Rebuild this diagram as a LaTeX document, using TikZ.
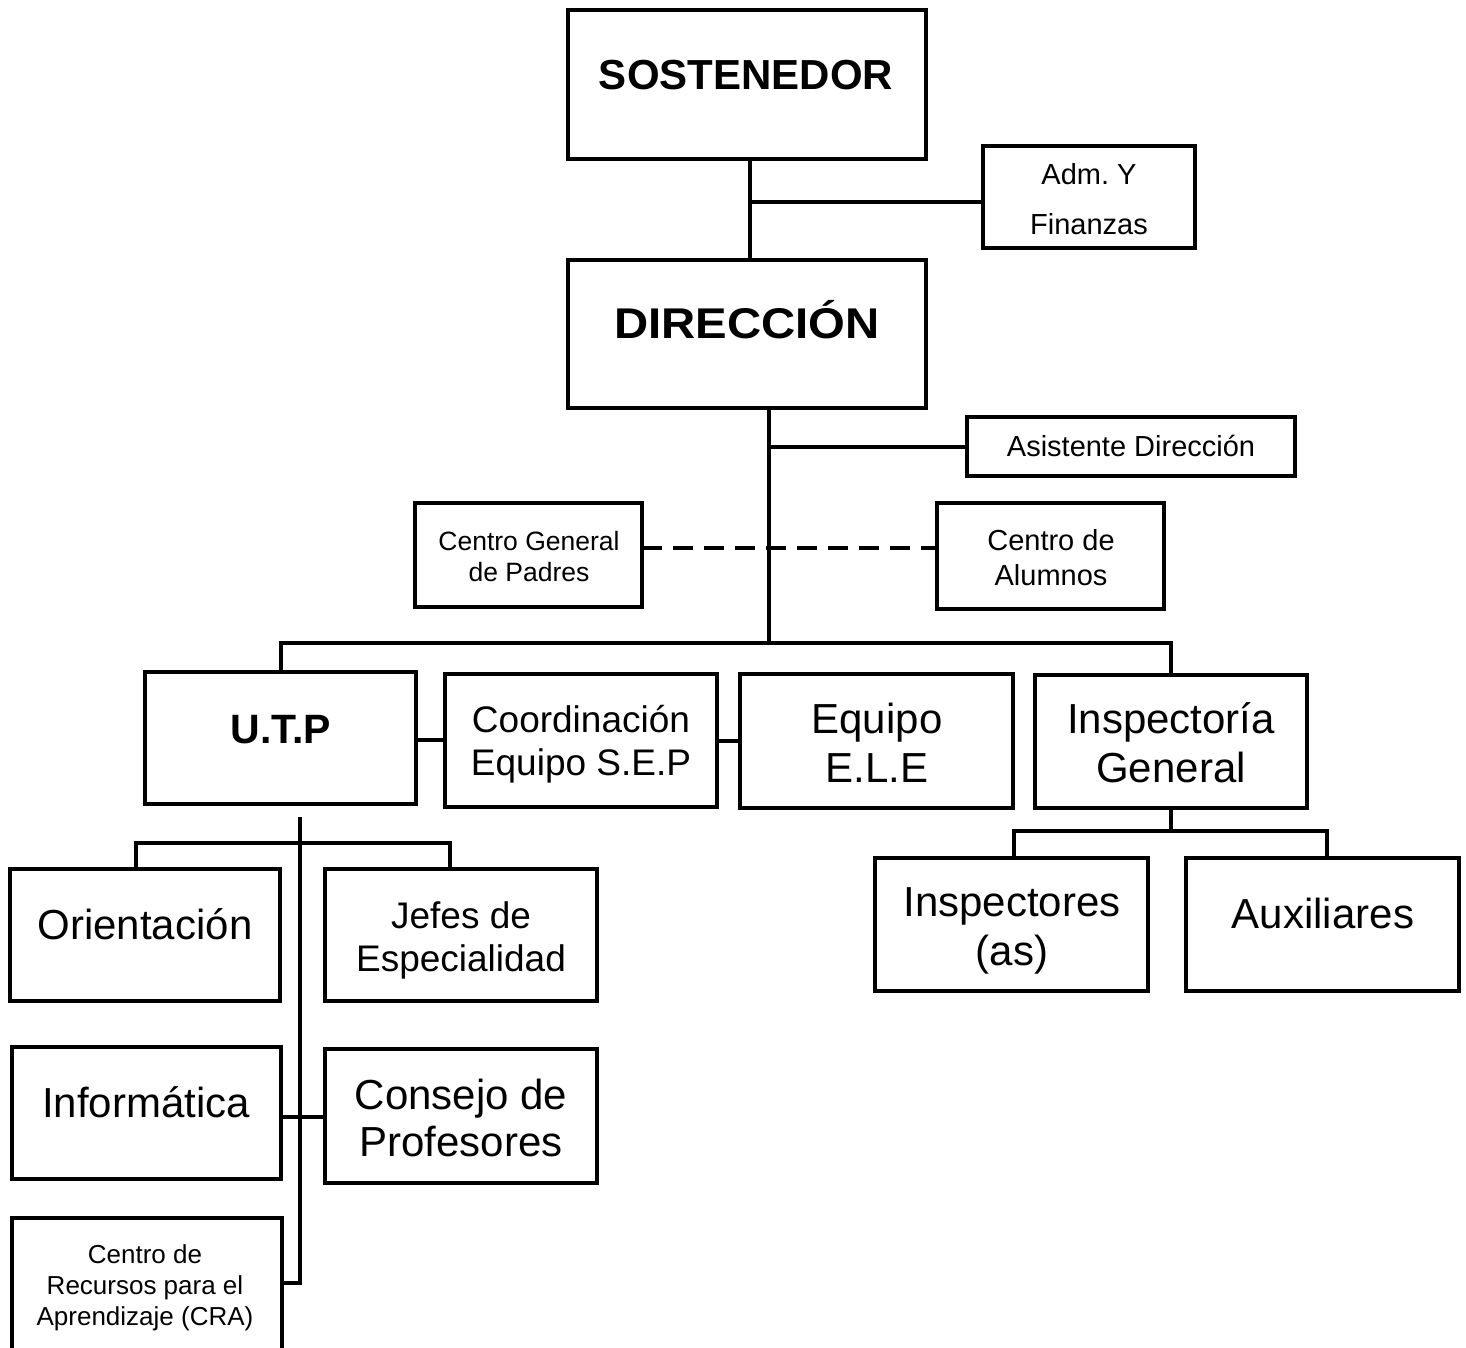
\documentclass[tikz,border=0pt]{standalone}
\usepackage{fontspec}
\setmainfont{Liberation Sans}
\usepackage{graphicx}
\frenchspacing
\tikzset{
  box/.style={draw, line width=4pt, inner sep=0pt, outer sep=0pt, anchor=north west},
  txt/.style={anchor=base, align=center, inner sep=0pt, outer sep=0pt},
  conn/.style={line width=4pt},
  dashconn/.style={line width=4pt, dash pattern=on 20pt off 11pt},
  fbig/.style={font=\fontsize{42}{49}\selectfont},
  fbold/.style={font=\fontsize{42}{49}\selectfont\bfseries},
  fmid/.style={font=\fontsize{37}{42.5}\selectfont},
  fsmall/.style={font=\fontsize{29}{35}\selectfont},
  ftiny/.style={font=\fontsize{26.5}{31}\selectfont},
}
\begin{document}
\begin{tikzpicture}[x=1pt,y=-1pt]
\clip (0,0) rectangle (1466,1348);
\fill[white] (0,0) rectangle (1466,1348);
% boxes
\node[box, minimum width=358pt, minimum height=149pt] (sost) at (568,10) {};
\node[box, minimum width=212pt, minimum height=102pt] (adm) at (983,146) {};
\node[box, minimum width=358pt, minimum height=148pt] (dir) at (568,260) {};
\node[box, minimum width=328pt, minimum height=59pt] (asis) at (967,417) {};
\node[box, minimum width=227pt, minimum height=104pt] (cgp) at (415,503) {};
\node[box, minimum width=227pt, minimum height=106pt] (calu) at (937,503) {};
\node[box, minimum width=271pt, minimum height=132pt] (utp) at (145,672) {};
\node[box, minimum width=272pt, minimum height=133pt] (coord) at (445,674) {};
\node[box, minimum width=273pt, minimum height=134pt] (ele) at (740,674) {};
\node[box, minimum width=272pt, minimum height=133pt] (insp) at (1035,675) {};
\node[box, minimum width=270pt, minimum height=132pt] (orient) at (10,869) {};
\node[box, minimum width=272pt, minimum height=132pt] (jefes) at (325,869) {};
\node[box, minimum width=273pt, minimum height=133pt] (inspres) at (875,858) {};
\node[box, minimum width=273pt, minimum height=133pt] (aux) at (1186,858) {};
\node[box, minimum width=269pt, minimum height=132pt] (inf) at (12,1047) {};
\node[box, minimum width=272pt, minimum height=134pt] (cons) at (325,1049) {};
\node[box, minimum width=270pt, minimum height=162pt] (cra) at (12,1218) {};
% texts (multi-line nodes: base = last line's baseline)
\node[txt, fbold] (tsost) at (746,90) {SOSTENEDOR};
\node[txt, font=\fontsize{43}{49}\selectfont\bfseries] (tdir) at (747,338) {\scalebox{1.1}[1]{DIRECCIÓN}};
\node[txt, font=\fontsize{29}{50}\selectfont] (tadm) at (1089,235) {Adm. Y\\Finanzas};
\node[txt, fsmall] (tasis) at (1131,456) {Asistente Dirección};
\node[txt, ftiny] (tcgp) at (529,581) {Centro General\\de Padres};
\node[txt, fsmall] (tcalu) at (1051,585) {Centro de\\Alumnos};
\node[txt, font=\fontsize{41}{49}\selectfont\bfseries] (tutp) at (281,743) {U.T.P};
\node[txt, fmid] (tcoord) at (581,775) {Coordinación\\Equipo S.E.P};
\node[txt, fbig] (tele) at (877,782) {Equipo\\E.L.E};
\node[txt, fbig] (tinsp) at (1171,782) {Inspectoría\\General};
\node[txt, fbig] (torient) at (145,939) {Orientación};
\node[txt, fmid] (tjefes) at (461,971) {Jefes de\\Especialidad};
\node[txt, fbig] (tinspres) at (1012,965) {Inspectores\\(as)};
\node[txt, fbig] (taux) at (1323,928) {Auxiliares};
\node[txt, fbig] (tinf) at (146,1117) {Informática};
\node[txt, font=\fontsize{42}{47}\selectfont] (tcons) at (461,1156) {Consejo de\\Profesores};
\node[txt, font=\fontsize{26}{31}\selectfont] (tcra) at (145,1325) {Centro de\\Recursos para el\\Aprendizaje (CRA)};
% coordinates
\coordinate (bus) at (769,643);
\coordinate (ibus) at (1171,831);
\coordinate (ut) at (300,817);
\coordinate (sb) at (300,843);
\coordinate (top) at (750,202);
% connectors
\draw[conn] (sost.south -| top) -- (dir.north -| top);
\draw[conn] (adm.west |- top) -- (top);
\draw[conn] (dir.south -| bus) -- (bus);
\draw[conn] (asis.west) -- (asis.west -| bus);
\draw[dashconn] ([yshift=7pt]cgp.east) -- ([yshift=7pt]cgp.east -| calu.west);
\draw[conn] (utp.north) |- (insp.north |- bus) -- (insp.north);
\draw[conn] ([yshift=-2pt]utp.east) -- ([yshift=-2pt]utp.east -| coord.west);
\draw[conn] (coord.east) -- (coord.east -| ele.west);
\draw[conn] (insp.south) -- (ibus);
\draw[conn] ([xshift=2pt]inspres.north) |- ([xshift=4pt]aux.north |- ibus) -- ([xshift=4pt]aux.north);
\draw[conn] (ut) |- ([yshift=16pt]cra.east);
\draw[conn] ([xshift=-9pt]orient.north) |- ([xshift=-11pt]jefes.north |- sb) -- ([xshift=-11pt]jefes.north);
\draw[conn] ([yshift=-4pt]inf.east) -- ([yshift=-4pt]inf.east -| cons.west);
\end{tikzpicture}
\end{document}
